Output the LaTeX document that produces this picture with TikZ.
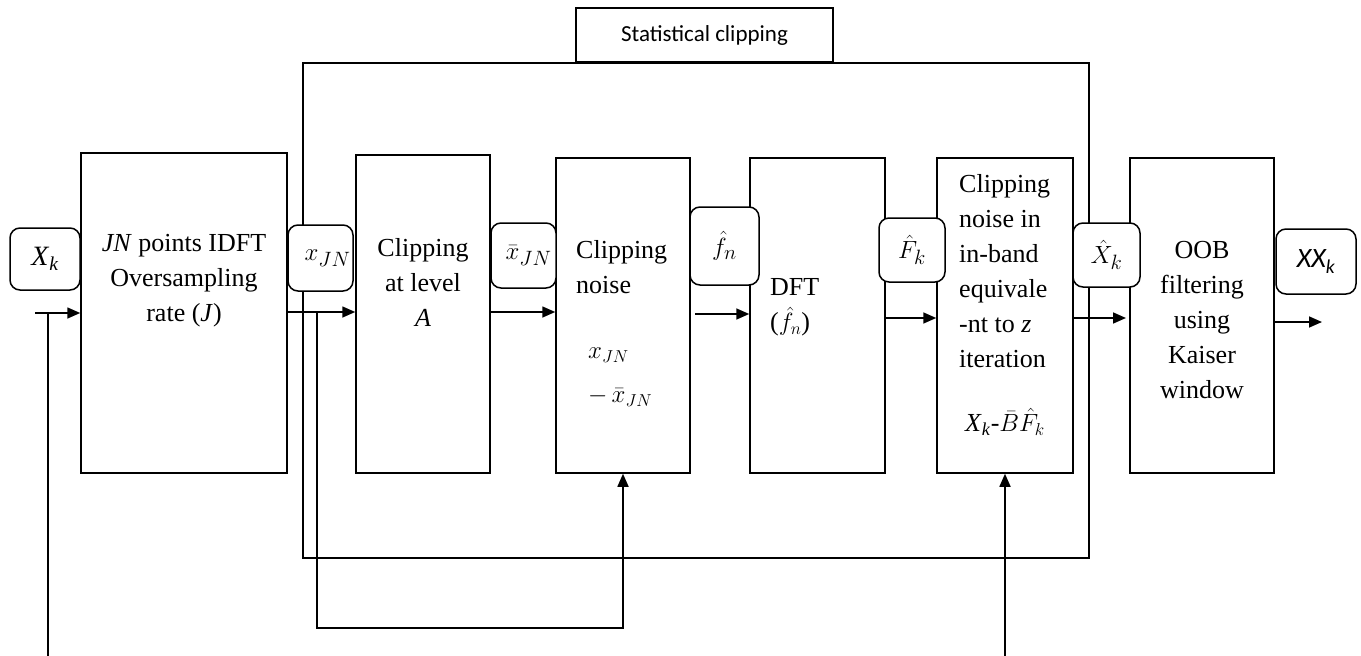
\documentclass[tikz,border=0pt]{standalone}
\usepackage{fontspec}
\setmainfont{Liberation Serif}
\newfontfamily\calibri{Carlito}
\usetikzlibrary{arrows.meta}
\begin{document}
\begin{tikzpicture}[x=1pt,y=-1pt,
  blk/.style={draw, line width=1.5pt, inner sep=0pt},
  lbl/.style={draw, line width=1.5pt, rounded corners=10pt, fill=white, inner sep=0pt, font=\fontsize{28}{34}\selectfont},
  txt/.style={font=\fontsize{26}{35}\selectfont, inner sep=0pt},
  arr/.style={line width=1.6pt, -{Triangle[length=13pt,width=11pt]}},
  ln/.style={line width=1.6pt}]
\useasboundingbox (0,0) rectangle (1361,656);
% big box
\node[blk, minimum width=786pt, minimum height=495pt] (big) at (696,310.5) {};
% blocks
\node[blk, minimum width=206pt, minimum height=320pt] (b1) at (184,313) {};
\node[blk, minimum width=134pt, minimum height=318pt] (b2) at (423,314) {};
\node[blk, minimum width=134pt, minimum height=315pt] (b3) at (623,315.5) {};
\node[blk, minimum width=135pt, minimum height=315pt] (b4) at (817.5,315.5) {};
\node[blk, minimum width=136pt, minimum height=315pt] (b5) at (1005,315.5) {};
\node[blk, minimum width=144pt, minimum height=315pt] (b6) at (1202,315.5) {};
% block texts
\node[txt, align=center] (t1) at (184,281) {\textit{JN} points IDFT\\Oversampling\\rate (\textit{J})};
\node[txt, align=center] (t2) at (423,282) {Clipping\\at level\\\textit{A}};
\node[txt, align=left, anchor=west] (t3) at (576,267.5) {Clipping\\noise};
\node[txt, anchor=west] (t3a) at (588,355) {$x_{JN}$};
\node[txt, anchor=west] (t3b) at (588,397) {$-\,\bar{x}_{JN}$};
\node[txt, align=left, anchor=west] (t4) at (770,307.5) {DFT\\($\hat{f}_{n}$)};
\node[txt, align=left, anchor=west] (t5) at (959,271) {Clipping\\noise in\\in-band\\equivale\\-nt to \textit{z}\\iteration};
\node[txt] (t5b) at (1005,422) {\textit{X}\textsubscript{\textit{k}}-$\bar{B}\hat{F}_k$};
\node[txt, align=center] (t6) at (1202,320) {OOB\\filtering\\using\\Kaiser\\window};
% coordinates
\coordinate (in) at (35,313);
\coordinate (out) at (1322,322);
\coordinate (fb1) at (317,312);
\coordinate (fb1c) at (317,628);
\coordinate (fb1d) at (623,628);
\coordinate (fb2) at (48,313);
\coordinate (fb2e) at (48,656);
\coordinate (fb3) at (1005,656);
% connectors
\draw[arr] (in) -- (b1.west |- in);
\draw[arr] (b1.east |- fb1) -- (b2.west |- fb1);
\draw[arr] (b2.east |- 0,312) -- (b3.west |- 0,312);
\draw[arr] (695,314) -- (b4.west |- 0,314);
\draw[arr] (b4.east |- 0,318) -- (b5.west |- 0,318);
\draw[arr] (b5.east |- 0,318) -- (1126,318);
\draw[arr] (b6.east |- out) -- (out);
\draw[arr] (fb1) -- (fb1c) -- (fb1d) -- (b3.south);
\draw[ln] (fb2) -- (fb2e);
\draw[arr] (fb3) -- (b5.south);
% label boxes
\node[lbl, minimum width=70pt, minimum height=62pt] (lX) at (45,259) {\textit{X}\textsubscript{\textit{k}}};
\node[lbl, minimum width=65pt, minimum height=66pt] (lx) at (320.5,258) {\hspace{14pt}$x_{JN}$};
\node[lbl, minimum width=65pt, minimum height=65pt] (lxb) at (523.5,255.5) {\hspace{10pt}$\bar{x}_{JN}$};
\node[lbl, minimum width=69pt, minimum height=78pt] (lf) at (724.5,246) {$\hat{f}_{n}$};
\node[lbl, minimum width=66pt, minimum height=64pt] (lF) at (912,250) {$\hat{F}_k$};
\node[lbl, minimum width=67pt, minimum height=64pt] (lXh) at (1106.5,255) {$\hat{X}_k$};
\node[lbl, minimum width=80pt, minimum height=65pt, font=\calibri\itshape\fontsize{28}{32}\selectfont] (lXX) at (1316,261.5) {XX\textsubscript{k}};
% title
\node[blk, fill=white, minimum width=257pt, minimum height=54pt, font=\calibri\fontsize{23}{28}\selectfont] (title) at (704.5,35) {Statistical clipping};
\end{tikzpicture}
\end{document}
